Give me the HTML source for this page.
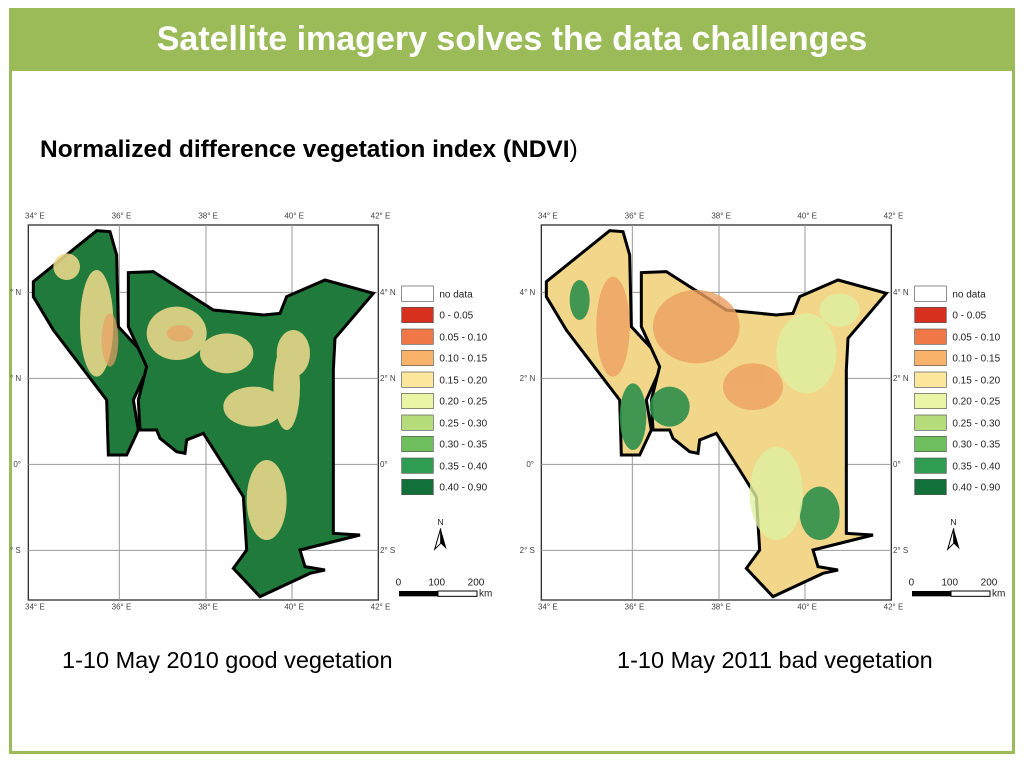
<!DOCTYPE html>
<html><head><meta charset="utf-8"><style>
body{margin:0;width:1024px;height:768px;background:#fff;position:relative;overflow:hidden;font-family:"Liberation Sans",sans-serif}
.frame{position:absolute;left:9px;top:8px;width:1000px;height:740px;border:3px solid #9bbb59}
.bar{position:absolute;left:9px;top:8px;width:1006px;height:63px;background:#9bbb59;color:#fff;font-weight:bold;font-size:34px;text-align:center;line-height:62px}
.t{position:absolute;font-size:23.5px;color:#000}
svg{position:absolute}
</style></head><body>
<div class="frame"></div>
<div class="bar">Satellite imagery solves the data challenges</div>
<div class="t" style="left:40px;top:136px;font-weight:bold;font-size:24.5px">Normalized difference vegetation index (NDVI<span style="font-weight:normal">)</span></div>
<div class="t" style="left:62px;top:647px">1-10 May 2010 good vegetation</div>
<div class="t" style="left:617px;top:647px">1-10 May 2011 bad vegetation</div>

<svg style="left:0;top:200px" width="500" height="410" viewBox="0 0 1500 1230">
<defs>
<g id="shape">
<path id="w" d="M100,245 L290,92 L330,95 L350,165 L355,380 L420,450 L445,500 L400,600 L415,690 L380,765 L325,765 L320,600 L160,390 L100,290Z"/>
<path id="m" d="M385,218 L460,215 L640,330 L790,345 L840,340 L860,290 L975,240 L1120,280 L1005,415 L1000,510 L1000,1000 L1080,1005 L900,1050 L915,1100 L975,1110 L930,1120 L780,1190 L700,1105 L740,1050 L730,890 L680,810 L610,700 L560,720 L555,760 L530,755 L480,715 L470,690 L420,690 L415,600 L440,500 L385,380Z"/>
</g>
</defs>
<g stroke="#999" stroke-width="3" fill="none">
<rect x="85" y="75" width="1050" height="1125" stroke="#333" stroke-width="4"/>
<line x1="358" y1="75" x2="358" y2="1200"/><line x1="618" y1="75" x2="618" y2="1200"/><line x1="876" y1="75" x2="876" y2="1200"/>
<line x1="85" y1="277" x2="1135" y2="277"/><line x1="85" y1="535" x2="1135" y2="535"/><line x1="85" y1="793" x2="1135" y2="793"/><line x1="85" y1="1051" x2="1135" y2="1051"/>
</g>
<g fill="#1f7a3c" stroke="#000" stroke-width="9"><use href="#w"/><use href="#m"/></g>
<g fill="#f3dc8e" opacity=".85">
<ellipse cx="290" cy="370" rx="50" ry="160"/><ellipse cx="530" cy="400" rx="90" ry="80"/><ellipse cx="680" cy="460" rx="80" ry="60"/>
<ellipse cx="760" cy="620" rx="90" ry="60"/><ellipse cx="860" cy="560" rx="40" ry="130"/><ellipse cx="800" cy="900" rx="60" ry="120"/>
<ellipse cx="200" cy="200" rx="40" ry="40"/><ellipse cx="880" cy="460" rx="50" ry="70"/>
</g>
<g fill="#e9a064" opacity=".7"><ellipse cx="330" cy="420" rx="25" ry="80"/><ellipse cx="540" cy="400" rx="40" ry="25"/></g>
<g font-size="24" fill="#444">
<text x="75" y="55">34° E</text><text x="335" y="55">36° E</text><text x="595" y="55">38° E</text><text x="853" y="55">40° E</text><text x="1112" y="55">42° E</text>
<text x="75" y="1228">34° E</text><text x="335" y="1228">36° E</text><text x="595" y="1228">38° E</text><text x="853" y="1228">40° E</text><text x="1112" y="1228">42° E</text>
<text x="1140" y="285">4° N</text><text x="1140" y="543">2° N</text><text x="1140" y="801">0°</text><text x="1140" y="1059">2° S</text>
<text x="30" y="285">° N</text><text x="30" y="543">° N</text><text x="40" y="801">0°</text><text x="30" y="1059">° S</text>
</g>
<g stroke="#555" stroke-width="2">
<rect x="1205" y="258" width="95" height="46" fill="#fff"/>
<rect x="1205" y="322" width="95" height="46" fill="#d7301f"/>
<rect x="1205" y="387" width="95" height="46" fill="#f07846"/>
<rect x="1205" y="451" width="95" height="46" fill="#f9b26a"/>
<rect x="1205" y="516" width="95" height="46" fill="#fde79c"/>
<rect x="1205" y="580" width="95" height="46" fill="#eaf5a6"/>
<rect x="1205" y="645" width="95" height="46" fill="#b5dc7a"/>
<rect x="1205" y="709" width="95" height="46" fill="#6fbf5e"/>
<rect x="1205" y="774" width="95" height="46" fill="#2e9d52"/>
<rect x="1205" y="838" width="95" height="46" fill="#12703a"/>
</g>
<g font-size="30" fill="#222">
<text x="1318" y="292">no data</text><text x="1318" y="356">0 - 0.05</text><text x="1318" y="421">0.05 - 0.10</text><text x="1318" y="485">0.10 - 0.15</text><text x="1318" y="550">0.15 - 0.20</text><text x="1318" y="614">0.20 - 0.25</text><text x="1318" y="679">0.25 - 0.30</text><text x="1318" y="743">0.30 - 0.35</text><text x="1318" y="808">0.35 - 0.40</text><text x="1318" y="872">0.40 - 0.90</text>
<text x="1312" y="975" font-size="26">N</text>
<text x="1187" y="1157">0</text><text x="1285" y="1157">100</text><text x="1403" y="1157">200</text><text x="1437" y="1190">km</text>
</g>
<path d="M1322,985 L1304,1048 L1322,1030Z" fill="#fff" stroke="#000" stroke-width="3"/><path d="M1322,985 L1340,1048 L1322,1030Z" fill="#000"/>
<rect x="1197" y="1173" width="117" height="16" fill="#000"/><rect x="1314" y="1173" width="117" height="16" fill="#fff" stroke="#000" stroke-width="3"/>
</svg>

<svg style="left:513px;top:200px" width="500" height="410" viewBox="0 0 1500 1230">
<g stroke="#999" stroke-width="3" fill="none">
<rect x="85" y="75" width="1050" height="1125" stroke="#333" stroke-width="4"/>
<line x1="358" y1="75" x2="358" y2="1200"/><line x1="618" y1="75" x2="618" y2="1200"/><line x1="876" y1="75" x2="876" y2="1200"/>
<line x1="85" y1="277" x2="1135" y2="277"/><line x1="85" y1="535" x2="1135" y2="535"/><line x1="85" y1="793" x2="1135" y2="793"/><line x1="85" y1="1051" x2="1135" y2="1051"/>
</g>
<g fill="#f2d68a" stroke="#000" stroke-width="9">
<path d="M100,245 L290,92 L330,95 L350,165 L355,380 L420,450 L445,500 L400,600 L415,690 L380,765 L325,765 L320,600 L160,390 L100,290Z"/>
<path d="M385,218 L460,215 L640,330 L790,345 L840,340 L860,290 L975,240 L1120,280 L1005,415 L1000,510 L1000,1000 L1080,1005 L900,1050 L915,1100 L975,1110 L930,1120 L780,1190 L700,1105 L740,1050 L730,890 L680,810 L610,700 L560,720 L555,760 L530,755 L480,715 L470,690 L420,690 L415,600 L440,500 L385,380Z"/>
</g>
<g fill="#eca060" opacity=".8">
<ellipse cx="550" cy="380" rx="130" ry="110"/><ellipse cx="300" cy="380" rx="50" ry="150"/><ellipse cx="720" cy="560" rx="90" ry="70"/>
</g>
<g fill="#2e8f4a" opacity=".9">
<ellipse cx="360" cy="650" rx="40" ry="100"/><ellipse cx="470" cy="620" rx="60" ry="60"/><ellipse cx="920" cy="940" rx="60" ry="80"/><ellipse cx="200" cy="300" rx="30" ry="60"/>
</g>
<g fill="#dff0a0" opacity=".8"><ellipse cx="880" cy="460" rx="90" ry="120"/><ellipse cx="790" cy="880" rx="80" ry="140"/><ellipse cx="980" cy="330" rx="60" ry="50"/></g>
<g font-size="24" fill="#444">
<text x="75" y="55">34° E</text><text x="335" y="55">36° E</text><text x="595" y="55">38° E</text><text x="853" y="55">40° E</text><text x="1112" y="55">42° E</text>
<text x="75" y="1228">34° E</text><text x="335" y="1228">36° E</text><text x="595" y="1228">38° E</text><text x="853" y="1228">40° E</text><text x="1112" y="1228">42° E</text>
<text x="1140" y="285">4° N</text><text x="1140" y="543">2° N</text><text x="1140" y="801">0°</text><text x="1140" y="1059">2° S</text>
<text x="20" y="285">4° N</text><text x="20" y="543">2° N</text><text x="40" y="801">0°</text><text x="20" y="1059">2° S</text>
</g>
<g stroke="#555" stroke-width="2">
<rect x="1205" y="258" width="95" height="46" fill="#fff"/>
<rect x="1205" y="322" width="95" height="46" fill="#d7301f"/>
<rect x="1205" y="387" width="95" height="46" fill="#f07846"/>
<rect x="1205" y="451" width="95" height="46" fill="#f9b26a"/>
<rect x="1205" y="516" width="95" height="46" fill="#fde79c"/>
<rect x="1205" y="580" width="95" height="46" fill="#eaf5a6"/>
<rect x="1205" y="645" width="95" height="46" fill="#b5dc7a"/>
<rect x="1205" y="709" width="95" height="46" fill="#6fbf5e"/>
<rect x="1205" y="774" width="95" height="46" fill="#2e9d52"/>
<rect x="1205" y="838" width="95" height="46" fill="#12703a"/>
</g>
<g font-size="30" fill="#222">
<text x="1318" y="292">no data</text><text x="1318" y="356">0 - 0.05</text><text x="1318" y="421">0.05 - 0.10</text><text x="1318" y="485">0.10 - 0.15</text><text x="1318" y="550">0.15 - 0.20</text><text x="1318" y="614">0.20 - 0.25</text><text x="1318" y="679">0.25 - 0.30</text><text x="1318" y="743">0.30 - 0.35</text><text x="1318" y="808">0.35 - 0.40</text><text x="1318" y="872">0.40 - 0.90</text>
<text x="1312" y="975" font-size="26">N</text>
<text x="1187" y="1157">0</text><text x="1285" y="1157">100</text><text x="1403" y="1157">200</text><text x="1437" y="1190">km</text>
</g>
<path d="M1322,985 L1304,1048 L1322,1030Z" fill="#fff" stroke="#000" stroke-width="3"/><path d="M1322,985 L1340,1048 L1322,1030Z" fill="#000"/>
<rect x="1197" y="1173" width="117" height="16" fill="#000"/><rect x="1314" y="1173" width="117" height="16" fill="#fff" stroke="#000" stroke-width="3"/>
</svg>
</body></html>
